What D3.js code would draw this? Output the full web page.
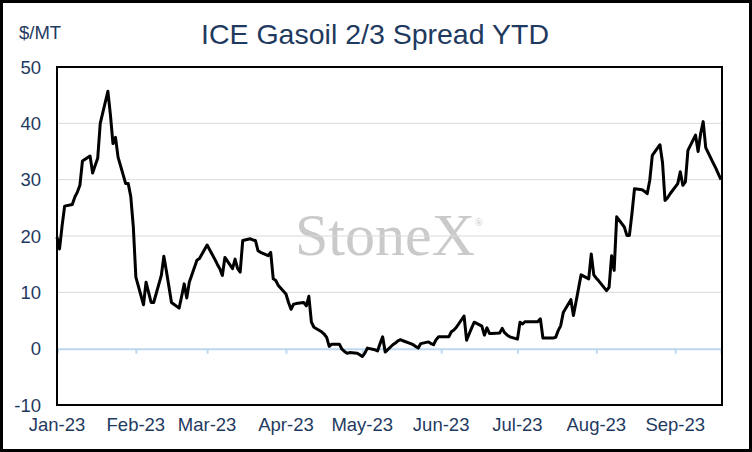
<!DOCTYPE html>
<html>
<head>
<meta charset="utf-8">
<script src="https://cdn.jsdelivr.net/npm/d3@7"></script>
<style>
body { margin:0; background:#fff; }
svg { display:block; font-family:"Liberation Sans", Arial, sans-serif; }
</style>
</head>
<body>
<svg id="chart" width="752" height="452"></svg>
<script>
// donnees
var chartTitle = "ICE Gasoil 2/3 Spread YTD";
var unitLabel = "$/MT";
var brand = "StoneX";
var firstDay = "2023-01-03";
var lastDay = "2023-09-21";
var yTicks = [-10, 0, 10, 20, 30, 40, 50];
var gridValues = [10, 20, 30, 40];
// one value per weekday, Jan 3 -> Sep 21
var spread = [
    19.8, 17.7, 21.8, 25.3,
    25.6, 26.9, 27.8, 29.0, 33.3,
    34.2, 31.2, 32.5, 33.8, 40.0,
    45.7, 41.5, 36.4, 37.5, 34.0,
    29.3, 29.3, 27.0, 21.6, 12.7,
    7.8, 11.8, 10.0, 8.2, 8.2,
    13.0, 16.4, 13.8, 11.0, 8.2,
    7.2, 9.3, 11.5, 9.0, 11.8,
    15.7, 16.0, 16.8, 17.6, 18.4,
    15.9, 15.0, 14.2, 13.0, 16.2,
    14.2, 15.9, 14.2, 13.6, 19.2,
    19.5, 19.3, 19.2, 17.4, 17.1,
    16.5, 17.1, 12.4, 12.1, 11.2,
    9.7, 8.2, 7.0, 7.9, 8.0,
    8.2, 7.6, 9.3, 4.7, 3.8,
    3.0, 2.6, 2.0, 0.4, 0.8,
    0.8, -0.1, -0.5, -0.8, -0.7,
    -0.8, -1.1, -1.4, -0.8, 0.1,
    -0.2, -0.4, 0.9, 2.1, -0.6,
    0.7, 1.0, 1.4, 1.6, 1.4,
    0.9, 0.7, 0.4, 0.1, 0.9,
    1.2, 0.9, 0.7, 1.6, 2.1,
    2.1, 2.1, 3.0, 3.3, 3.8,
    5.8, 1.5, 2.6, 3.7, 4.7,
    4.0, 2.4, 3.7, 2.7, 2.7,
    2.8, 3.6, 2.8, 2.4, 2.1,
    1.7, 4.7, 4.4, 4.8, 4.8,
    4.8, 4.8, 5.3, 1.9, 1.9,
    1.9, 2.0, 3.2, 4.1, 6.4,
    8.7, 5.9, 8.3, 10.7, 13.1,
    12.4, 16.8, 13.1, 12.5, 12.0,
    10.3, 10.9, 16.5, 13.9, 23.4,
    21.6, 20.1, 20.1, 24.0, 28.4,
    28.2, 27.9, 27.5, 29.9, 34.3,
    36.2, 33.1, 26.3, 26.8, 27.5,
    29.3, 31.4, 29.0, 29.6, 35.2,
    37.9, 35.0, 38.2, 40.3, 35.7,
    32.9, 32.0, 31.0, 30.0
];

var textColor = "#1F3A5F";
var svg = d3.select("#chart");
var parse = d3.timeParse("%Y-%m-%d");
var d0 = parse(firstDay), d1 = parse(lastDay);

// weekdays only (trading days)
var days = d3.timeDay.range(d0, d3.timeDay.offset(d1, 1))
    .filter(function(d){ return d.getDay() != 0 && d.getDay() != 6; });
var data = spread.map(function(v, i){ return {date: days[i], value: v}; });

var x = d3.scaleTime().domain([d0, d1]).range([57, 721]);
var y = d3.scaleLinear().domain([-10, 50]).range([405, 67]);

// cadre exterieur
svg.append("rect")
    .attr("x", 1.5).attr("y", 1.5).attr("width", 749).attr("height", 449)
    .style("fill", "#fff").style("stroke", "#000").style("stroke-width", 3);

// filigrane
svg.append("text")
    .attr("x", 385).attr("y", 255)
    .attr("text-anchor", "middle")
    .style("font-family", "'Liberation Serif', 'Times New Roman', serif")
    .style("font-size", "60px")
    .style("fill", "#CACACA")
    .text(brand);
svg.append("text")
    .attr("x", 479).attr("y", 226)
    .attr("text-anchor", "middle")
    .style("font-family", "'Liberation Serif', serif")
    .style("font-size", "11px")
    .style("fill", "#CACACA")
    .text("\u00AE");

// grille
svg.selectAll("line.grid")
    .data(gridValues)
    .enter().append("line")
    .attr("class", "grid")
    .attr("x1", 57).attr("x2", 722)
    .attr("y1", function(d){ return y(d); })
    .attr("y2", function(d){ return y(d); })
    .style("stroke", "#D9D9D9").style("stroke-width", 1);

// axe des x sur le zero
var monthTicks = d3.range(0, 9).map(function(k){ return d3.timeMonth.offset(d0, k); });
var xAxis = d3.axisBottom(x)
    .tickValues(monthTicks)
    .tickSize(5)
    .tickFormat("");
var gx = svg.append("g")
    .attr("transform", "translate(0," + y(0) + ")")
    .call(xAxis);
gx.select(".domain").style("stroke", "#BDD7EE").style("stroke-width", 2);
gx.selectAll(".tick line").style("stroke", "#BDD7EE").style("stroke-width", 2);

// etiquettes des mois
svg.selectAll("text.month")
    .data(monthTicks)
    .enter().append("text")
    .attr("class", "month")
    .attr("x", function(d){ return x(d); })
    .attr("y", 431)
    .attr("text-anchor", "middle")
    .style("font-size", "18.5px")
    .style("fill", textColor)
    .text(d3.timeFormat("%b-%y"));

// etiquettes y
svg.selectAll("text.ylab")
    .data(yTicks)
    .enter().append("text")
    .attr("class", "ylab")
    .attr("x", 41)
    .attr("y", function(d){ return y(d) + 6.5; })
    .attr("text-anchor", "end")
    .style("font-size", "18.5px")
    .style("fill", textColor)
    .text(function(d){ return d; });

// courbe
var line = d3.line()
    .x(function(d){ return x(d.date); })
    .y(function(d){ return y(d.value); });
svg.append("path")
    .datum(data)
    .attr("d", line)
    .style("fill", "none")
    .style("stroke", "#000")
    .style("stroke-width", 3)
    .style("stroke-linejoin", "round");

// cadre du graphe
svg.append("rect")
    .attr("x", 57).attr("y", 67).attr("width", 665).attr("height", 338)
    .style("fill", "none").style("stroke", "#000").style("stroke-width", 2);

// titres
svg.append("text")
    .attr("x", 375).attr("y", 44)
    .attr("text-anchor", "middle")
    .style("font-size", "28.5px")
    .style("fill", textColor)
    .text(chartTitle);
svg.append("text")
    .attr("x", 19).attr("y", 39)
    .style("font-size", "18.5px")
    .style("fill", textColor)
    .text(unitLabel);
</script>
</body>
</html>
